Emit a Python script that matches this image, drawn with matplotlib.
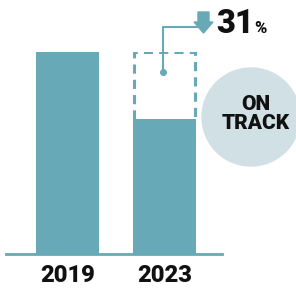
import matplotlib
matplotlib.use("Agg")
import matplotlib.pyplot as plt
from matplotlib.patches import Circle, Polygon

categories = ["2019", "2023"]
values = [100, 67]
change_label = "31"
badge_text = "ON\nTRACK"

TEAL = "#67a9b6"
LIGHT = "#d1e0e5"
FONT = "Roboto"
WEIGHT = 900

W, H = 296, 288
fig = plt.figure(figsize=(W / 100, H / 100), dpi=100)

# bar axes: baseline at y=254px, value 100 at y=52px
ax = fig.add_axes([6 / W, (H - 254) / H, 216 / W, 202 / H])
ax.set_xlim(-0.634, 1.593)
ax.set_ylim(0, 100)
ax.axis("off")
w = 0.65
xs = list(range(len(categories)))
ax.bar(xs, values, width=w, color=TEAL, zorder=3)
# dashed outline of the previous level over 2023
ax.plot([1 - w / 2 + 0.01, 1 - w / 2 + 0.01, 1 + w / 2 - 0.01, 1 + w / 2 - 0.01],
        [values[1], values[0], values[0], values[1]],
        color=TEAL, lw=2.2, ls=(0, (3, 2)), zorder=2, solid_capstyle="butt")
ax.axhline(0, color=TEAL, lw=2, zorder=4, clip_on=False)
for x, c in zip(xs, categories):
    ax.text(x, -10.5, c, ha="center", va="center", fontsize=17,
            fontweight=WEIGHT, family=FONT, color="#111111")

# overlay in pixel coordinates
ov = fig.add_axes([0, 0, 1, 1])
ov.set_xlim(0, W)
ov.set_ylim(H, 0)
ov.axis("off")
ov.patch.set_alpha(0)

ov.add_patch(Circle((251, 117), 49, color=LIGHT, zorder=1))
ov.text(256, 114, badge_text, ha="center", va="center", fontsize=15,
        fontweight=WEIGHT, family=FONT, color="#111111", linespacing=1.0, zorder=2)

ov.plot([163, 163, 197], [72, 27, 27], color=TEAL, lw=1.5, zorder=3)
ov.plot([163], [72], "o", color=TEAL, ms=4, zorder=3)
ov.add_patch(Polygon([(198, 12), (209, 12), (209, 22), (213, 22), (203.5, 33),
                      (194, 22), (198, 22)], closed=True, color=TEAL, zorder=3))
ov.text(216, 24, change_label, ha="left", va="center", fontsize=23.5,
        fontweight=WEIGHT, family=FONT, color="#111111")
ov.text(254, 28, "%", ha="left", va="center", fontsize=12,
        fontweight=WEIGHT, family=FONT, color="#111111")

fig.savefig("out.png", dpi=100)
